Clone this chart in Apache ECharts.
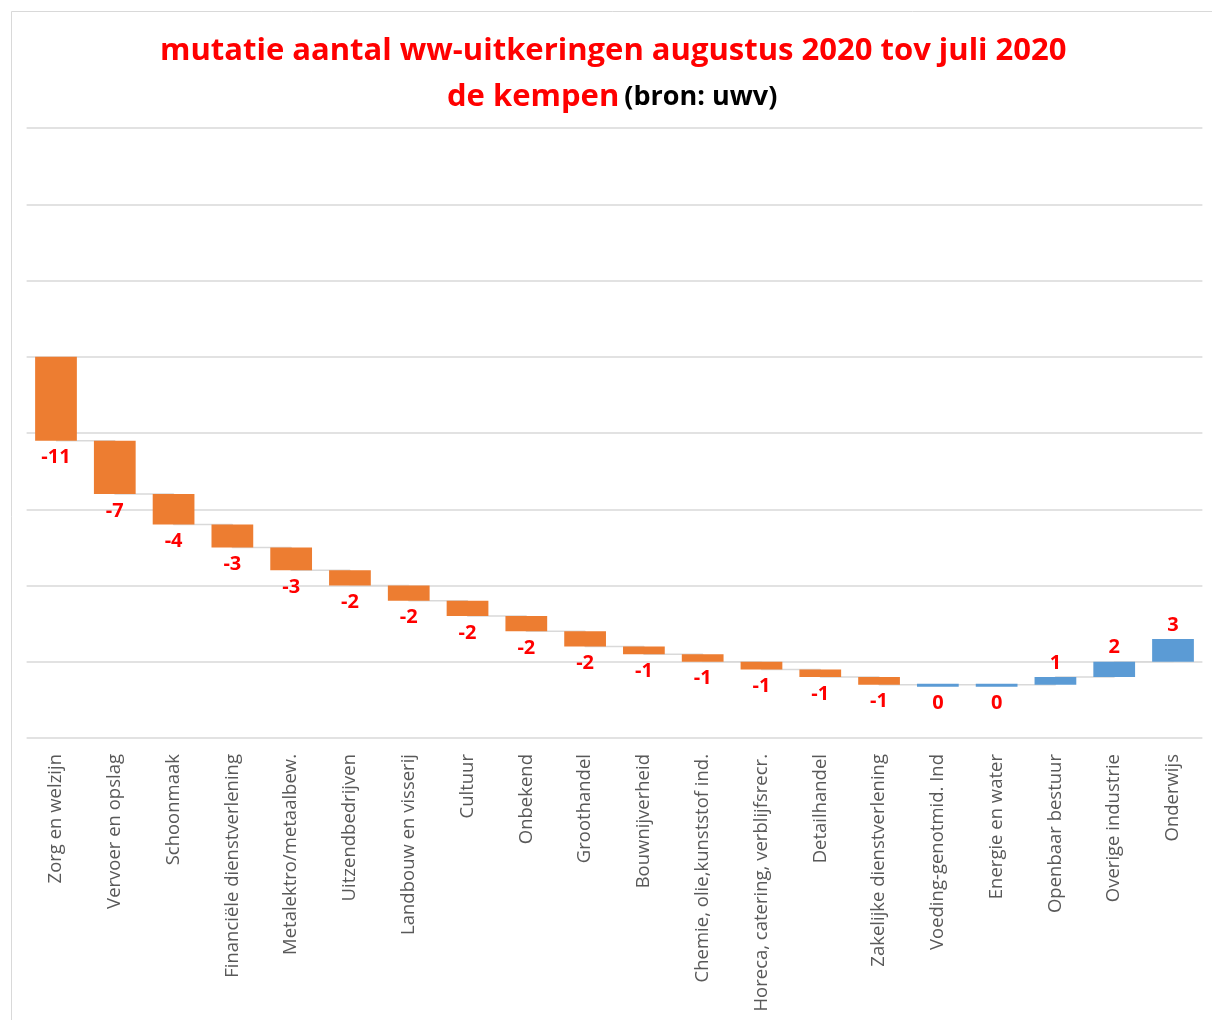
<!DOCTYPE html>
<html>
<head>
<meta charset="utf-8">
<script src="https://cdn.jsdelivr.net/npm/echarts@6/dist/echarts.min.js"></script>
<style>
html,body{margin:0;padding:0;background:#fff;}
#chart{width:1212px;height:1020px;}
</style>
</head>
<body>
<div id="chart"></div>
<script>
const categories = [
  'Zorg en welzijn','Vervoer en opslag','Schoonmaak','Financiële dienstverlening',
  'Metalektro/metaalbew.','Uitzendbedrijven','Landbouw en visserij','Cultuur',
  'Onbekend','Groothandel','Bouwnijverheid','Chemie, olie,kunststof ind.',
  'Horeca, catering, verblijfsrecr.','Detailhandel','Zakelijke dienstverlening',
  'Voeding-genotmid. Ind','Energie en water','Openbaar bestuur','Overige industrie','Onderwijs'
];
const changes = [-11,-7,-4,-3,-3,-2,-2,-2,-2,-2,-1,-1,-1,-1,-1,0,0,1,2,3];
const yTicks = { min: -50, max: 30, interval: 10 };

// build running totals from the changes
const starts = [];
const ends = [];
let run = 0;
changes.forEach(v => { starts.push(run); run += v; ends.push(run); });

const ORANGE = '#ED7D31', BLUE = '#5B9BD5', RED = '#FF0000';
const FONT = '"Open Sans", "Noto Sans", sans-serif';

const chart = echarts.init(document.getElementById('chart'));
chart.setOption({
  animation: false,
  backgroundColor: '#fff',
  title: [
    {
      text: 'mutatie aantal ww-uitkeringen augustus 2020 tov juli 2020',
      left: 155, top: 31,
      textStyle: { color: RED, fontFamily: FONT, fontWeight: 'bold', fontSize: 31 }
    },
    {
      text: '{a|de kempen} {b|(bron: uwv)}',
      left: 442, top: 77,
      textStyle: {
        rich: {
          a: { color: RED, fontFamily: FONT, fontWeight: 'bold', fontSize: 31 },
          b: { color: '#000', fontFamily: FONT, fontWeight: 'bold', fontSize: 27 }
        }
      }
    }
  ],
  graphic: [{
    type: 'rect', left: 9, top: 9, z: -10,
    shape: { width: 1300, height: 1100 },
    style: { fill: 'none', stroke: '#d9d9d9', lineWidth: 1 }
  }],
  grid: { left: 26.6, right: 9.6, top: 128, bottom: 282 },
  xAxis: {
    type: 'category', data: categories,
    axisLine: { show: false }, axisTick: { show: false },
    axisLabel: { rotate: 90, margin: 16, color: '#595959', fontSize: 18.5, fontFamily: FONT, interval: 0 }
  },
  yAxis: {
    type: 'value', min: yTicks.min, max: yTicks.max, interval: yTicks.interval,
    axisLabel: { show: false }, axisLine: { show: false }, axisTick: { show: false },
    splitLine: { lineStyle: { color: '#d9d9d9', width: 1.5 } }
  },
  series: [
    {
      type: 'line', step: 'end', z: 1, symbol: 'none', silent: true,
      data: ends,
      lineStyle: { color: '#d9d9d9', width: 1.5 }
    },
    {
      type: 'custom', z: 3,
      data: changes.map((v, i) => [i, starts[i], ends[i], v]),
      encode: { x: 0, y: [1, 2] },
      renderItem: function (params, api) {
        const i = api.value(0), s = api.value(1), e = api.value(2), v = api.value(3);
        const p1 = api.coord([i, s]);
        const p2 = api.coord([i, e]);
        const w = api.size([1, 0])[0] * 0.71;
        let top = Math.min(p1[1], p2[1]);
        let bot = Math.max(p1[1], p2[1]);
        if (bot - top < 3) { top = p1[1] - 1; bot = p1[1] + 2; }
        const color = v < 0 ? ORANGE : BLUE;
        const labelY = v > 0 ? top - 14 : bot + 17;
        return {
          type: 'group',
          children: [
            { type: 'rect', shape: { x: p1[0] - w / 2, y: top, width: w, height: bot - top },
              style: { fill: color } },
            { type: 'text', x: p1[0], y: labelY,
              style: { text: String(v), fill: RED, font: 'bold 20px ' + FONT, align: 'center', verticalAlign: 'middle' } }
          ]
        };
      }
    }
  ]
});
</script>
</body>
</html>
